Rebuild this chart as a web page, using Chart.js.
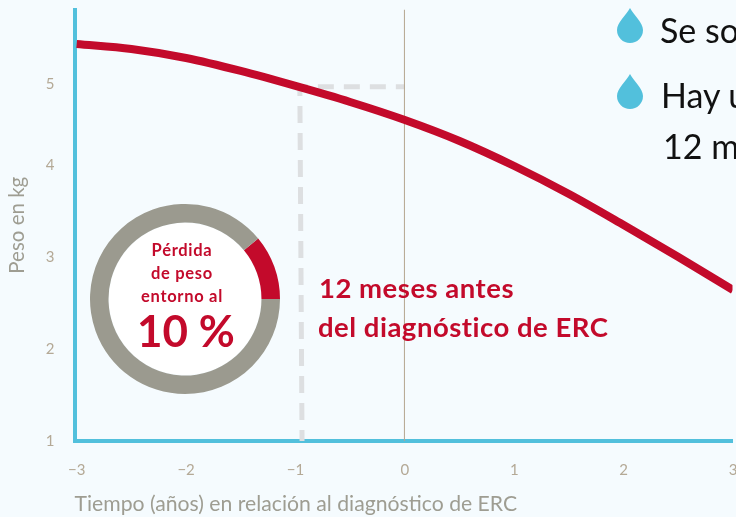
<!DOCTYPE html>
<html lang="es">
<head>
<meta charset="utf-8">
<title>Peso en kg</title>
<script src="https://cdn.jsdelivr.net/npm/chart.js@4/dist/chart.umd.min.js"></script>
<style>
  html, body { margin: 0; padding: 0; background: #f5fbfe; }
  #page { position: relative; width: 736px; height: 517px; overflow: hidden; font-family: Lato, sans-serif; }
  #chart { position: absolute; left: 0; top: 0; }
  #hole { position: absolute; left: 108.5px; top: 222.5px; width: 152px; height: 152px; border-radius: 50%; background: #fff; }
  #donut { position: absolute; left: 89.5px; top: 203.5px; }
  .t { position: absolute; white-space: nowrap; }
  .red { color: #c30a2b; }
  .small { font-weight: 700; font-size: 16.5px; letter-spacing: 0.7px; width: 190px; left: 87px; text-align: center; }
  .big { font-weight: 700; font-size: 44px; width: 190px; left: 91px; text-align: center; top: 304px; }
  .note { font-weight: 700; font-size: 27.5px; letter-spacing: 0.5px; }
  .black { color: #111; font-size: 34px; font-weight: 400; }
  svg.drop { position: absolute; width: 26px; height: 35px; }
</style>
</head>
<body>
<div id="page">
  <canvas id="chart" width="736" height="517"></canvas>
  <div id="hole"></div>
  <canvas id="donut" width="190" height="190"></canvas>

  <div class="t small red" style="top:240px">Pérdida</div>
  <div class="t small red" style="top:263px">de peso</div>
  <div class="t small red" style="top:286px">entorno al</div>
  <div class="t big red">10 %</div>

  <div class="t note red" style="left:319px;top:271px">12 meses antes</div>
  <div class="t note red" style="left:318px;top:310px">del diagnóstico de ERC</div>

  <svg class="drop" style="left:617px;top:8px" viewBox="0 0 26 35"><path d="M13 0C17 7 26 15 26 22A13 13 0 0 1 0 22C0 15 9 7 13 0Z" fill="#52c0dc"/></svg>
  <svg class="drop" style="left:617px;top:74px" viewBox="0 0 26 35"><path d="M13 0C17 7 26 15 26 22A13 13 0 0 1 0 22C0 15 9 7 13 0Z" fill="#52c0dc"/></svg>
  <div class="t black" style="left:660px;top:9px">Se so</div>
  <div class="t black" style="left:661px;top:74px">Hay u</div>
  <div class="t black" style="left:663px;top:125px">12 m</div>
</div>

<script>
  // curva de peso
  const years = [-3, -2.5, -2, -1.5, -1, -0.5, 0, 0.5, 1, 1.5, 2, 2.5, 3];
  const weight = [5.315, 5.261, 5.163, 5.022, 4.859, 4.685, 4.489, 4.261, 3.989, 3.685, 3.348, 3.0, 2.641];

  // guias
  const guideDownX = [-0.94, -0.96];
  const guideDownY = [1, 4.85];
  const guideAcrossX = [-0.96, 0];
  const guideAcrossY = [4.85, 4.85];
  const zeroX = [-0.004, -0.004];
  const zeroY = [1, 5.69];

  // ejes (el 5 esta algo mas bajo en el original)
  const yTickValues = [1, 2, 3, 4, 4.88];
  const yTickLabels = ['1', '2', '3', '4', '5'];
  const xTickValues = [-3, -2, -1, 0, 1, 2, 3];
  const xTickLabels = ['−3', '−2', '−1', '0', '1', '2', '3'];

  // anillo
  const ringValues = [11, 89];
  const ringColors = ['#c30a2b', '#9b9a8f'];

  const pairs = (xs, ys) => xs.map((x, i) => ({ x: x, y: ys[i] }));

  new Chart(document.getElementById('chart'), {
    type: 'line',
    data: {
      datasets: [
        {
          data: pairs(years, weight),
          borderColor: '#c30a2b',
          borderWidth: 8,
          cubicInterpolationMode: 'monotone',
          pointRadius: 0,
          order: 0
        },
        {
          data: pairs(guideDownX, guideDownY),
          borderColor: '#dddfe1',
          borderWidth: 5,
          borderDash: [17, 10],
          borderDashOffset: 6,
          pointRadius: 0,
          order: 2
        },
        {
          data: pairs(guideAcrossX, guideAcrossY),
          borderColor: '#dddfe1',
          borderWidth: 5,
          borderDash: [16, 10],
          borderDashOffset: 8,
          pointRadius: 0,
          order: 2
        },
        {
          data: pairs(zeroX, zeroY),
          borderColor: '#b4a68f',
          borderWidth: 1,
          pointRadius: 0,
          order: 1
        }
      ]
    },
    options: {
      responsive: false,
      animation: false,
      layout: { padding: { left: 0, right: 3.5, top: 9.5, bottom: 0 } },
      plugins: { legend: { display: false }, tooltip: { enabled: false } },
      scales: {
        x: {
          type: 'linear',
          min: -3.02,
          max: 2.995,
          afterBuildTicks: axis => { axis.ticks = xTickValues.map(v => ({ value: v })); },
          afterFit: axis => { axis.height = 76; axis.paddingLeft = 0; axis.paddingRight = 0; },
          grid: { display: false, drawTicks: false },
          border: { color: '#52c0dc', width: 4 },
          ticks: {
            autoSkip: false,
            maxRotation: 0,
            padding: 20,
            color: '#b4a996',
            font: { family: 'Lato', size: 15 },
            callback: (v, i) => xTickLabels[i]
          },
          title: {
            display: true,
            text: 'Tiempo (años) en relación al diagnóstico de ERC',
            align: 'start',
            color: '#9e9d92',
            font: { family: 'Lato', size: 21.2 },
            padding: 0
          }
        },
        y: {
          type: 'linear',
          min: 1,
          max: 5.69,
          afterBuildTicks: axis => { axis.ticks = yTickValues.map(v => ({ value: v })); },
          afterFit: axis => { axis.width = 74.5; axis.paddingTop = 0; axis.paddingBottom = 0; },
          grid: { display: false, drawTicks: false },
          border: { color: '#52c0dc', width: 4 },
          ticks: {
            autoSkip: false,
            padding: 20,
            color: '#b4a996',
            font: { family: 'Lato', size: 15 },
            callback: (v, i) => yTickLabels[i]
          },
          title: {
            display: true,
            text: 'Peso en kg',
            color: '#9e9d92',
            font: { family: 'Lato', size: 20.5 },
            padding: { top: 5, bottom: 0 }
          }
        }
      }
    }
  });

  new Chart(document.getElementById('donut'), {
    type: 'doughnut',
    data: {
      datasets: [{ data: ringValues, backgroundColor: ringColors, borderWidth: 0 }]
    },
    options: {
      responsive: false,
      animation: false,
      rotation: 50.4,
      cutout: '80.5%',
      plugins: { legend: { display: false }, tooltip: { enabled: false } }
    }
  });
</script>
</body>
</html>
